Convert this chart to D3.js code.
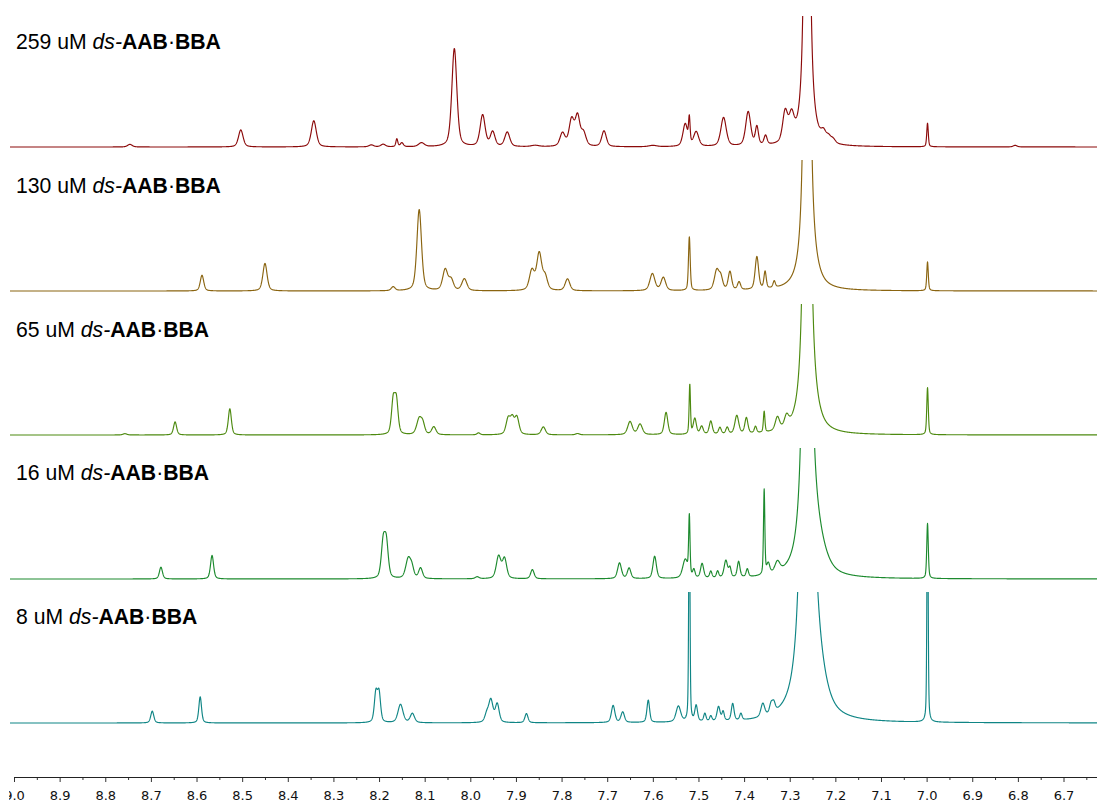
<!DOCTYPE html>
<html><head><meta charset="utf-8">
<script src="https://cdn.jsdelivr.net/npm/d3@7"></script>
<style>body{margin:0;background:#fff}svg{display:block}</style>
</head><body>
<svg id="chart" width="1097" height="804"></svg>
<script>
// ---- data (ppm, intensity a.u. with 100 = panel top, FWHM in ppm) ----
const concentrations = ["259", "130", "65", "16", "8"];
const tickLabels = [9.0, 8.9, 8.8, 8.7, 8.6, 8.5, 8.4, 8.3, 8.2, 8.1, 8.0, 7.9, 7.8, 7.7, 7.6, 7.5, 7.4, 7.3, 7.2, 7.1, 7.0, 6.9, 6.8, 6.7];
const minorTicks = [8.95, 8.85, 8.75, 8.65, 8.55, 8.45, 8.35, 8.25, 8.15, 8.05, 7.95, 7.85, 7.75, 7.65, 7.55, 7.45, 7.35, 7.25, 7.15, 7.05, 6.95, 6.85, 6.75, 6.65];

// CHCl3 solvent line (pure Lorentzian): centre, height per spectrum, FWHM per spectrum
const solventPpm = 7.262;
const solventHeight = [1050, 1200, 1330, 1780, 2600];
const solventWidth = [0.0062, 0.0066, 0.007, 0.007, 0.008];

const peaks259 = [
  [8.746, 2, 0.012], [8.503, 13, 0.012], [8.343, 20, 0.013], [8.217, 1.5, 0.012], [8.191, 2, 0.012],
  [8.161, 6, 0.005], [8.150, 3, 0.008], [8.107, 3, 0.015], [8.035, 75, 0.013], [7.973, 24, 0.013],
  [7.951, 11, 0.012], [7.919, 11, 0.013], [7.858, 1, 0.020], [7.798, 10, 0.013], [7.778, 20, 0.013],
  [7.765, 22, 0.012], [7.752, 10, 0.013], [7.707, 12, 0.012], [7.600, 1, 0.020], [7.529, 17, 0.012],
  [7.520, 19, 0.004], [7.505, 11, 0.013], [7.445, 22, 0.014], [7.391, 26, 0.013], [7.372, 14, 0.008],
  [7.353, 7, 0.008], [7.310, 23, 0.013], [7.296, 18, 0.013], [7.226, 6, 0.012],
  [7.215, 4, 0.012], [7.205, 3, 0.012], [6.998, 18, 0.004], [6.806, 1.2, 0.010]
];
const peaks130 = [
  [8.588, 12, 0.009], [8.450, 21, 0.011], [8.169, 3, 0.010], [8.112, 62, 0.012], [8.055, 16, 0.013],
  [8.042, 8, 0.012], [8.013, 9, 0.013], [7.865, 15, 0.013], [7.849, 28, 0.013], [7.836, 10, 0.012],
  [7.787, 9, 0.012], [7.601, 13, 0.013], [7.577, 10, 0.012], [7.520, 41, 0.0045], [7.460, 15, 0.012],
  [7.451, 9, 0.010], [7.431, 14, 0.009], [7.411, 6, 0.008], [7.372, 25, 0.009], [7.354, 13, 0.006],
  [7.334, 5, 0.006], [7.250, 5, 0.030], [6.998, 22, 0.004]
];
const peaks65 = [
  [8.757, 1, 0.010], [8.647, 10, 0.008], [8.527, 20, 0.008], [8.169, 25, 0.009], [8.162, 25, 0.009],
  [8.112, 12, 0.013], [8.104, 7, 0.010], [8.080, 6, 0.011], [7.982, 1.5, 0.008], [7.917, 12, 0.011],
  [7.908, 11, 0.010], [7.898, 13, 0.011], [7.840, 6, 0.011], [7.765, 1, 0.010], [7.650, 10, 0.012],
  [7.628, 8, 0.012], [7.571, 17, 0.009], [7.519, 38, 0.0035], [7.508, 12, 0.008], [7.493, 6, 0.008],
  [7.473, 10, 0.008], [7.453, 5, 0.007], [7.437, 5, 0.007], [7.416, 14, 0.010], [7.395, 12, 0.008],
  [7.375, 5, 0.006], [7.356, 16, 0.004], [7.327, 10, 0.011], [7.307, 8, 0.011],
  [7.250, 7, 0.030], [6.998, 36, 0.004]
];
const peaks16 = [
  [8.678, 9, 0.008], [8.566, 18, 0.008], [8.191, 26, 0.010], [8.184, 26, 0.010], [8.136, 15, 0.013],
  [8.128, 7, 0.010], [8.109, 8, 0.010], [7.985, 1.5, 0.010], [7.938, 17, 0.012], [7.925, 15, 0.011],
  [7.864, 7, 0.009], [7.673, 12, 0.010], [7.652, 8, 0.009], [7.596, 17, 0.009], [7.529, 14, 0.013],
  [7.520, 45, 0.0035], [7.510, 6, 0.006], [7.492, 11, 0.008], [7.473, 5, 0.006], [7.458, 5, 0.006],
  [7.440, 13, 0.009], [7.431, 7, 0.006], [7.412, 12, 0.007], [7.393, 6, 0.006], [7.356, 65, 0.0035],
  [7.347, 8, 0.008], [7.327, 8, 0.013], [7.245, 25, 0.045], [6.998, 42, 0.004]
];
const peaks8 = [
  [8.697, 9, 0.008], [8.592, 20, 0.007], [8.207, 22, 0.008], [8.200, 22, 0.008], [8.153, 14, 0.013],
  [8.127, 7, 0.011], [7.964, 6, 0.010], [7.955, 17, 0.011], [7.941, 14, 0.010], [7.877, 7, 0.008],
  [7.687, 13, 0.009], [7.666, 8, 0.009], [7.610, 17, 0.007], [7.544, 12, 0.012], [7.520, 200, 0.003],
  [7.505, 12, 0.007], [7.486, 6, 0.006], [7.473, 4, 0.006], [7.456, 11, 0.008], [7.446, 7, 0.006],
  [7.425, 13, 0.007], [7.407, 5, 0.006], [7.359, 10, 0.010], [7.341, 7, 0.008], [7.335, 7, 0.008],
  [7.245, 30, 0.045], [6.998, 200, 0.003]
];
const spectra = [peaks259, peaks130, peaks65, peaks16, peaks8];
const colors = ["#8b0a0a", "#8a6410", "#4d8a10", "#1c8a2e", "#0f8585"];

// ---- layout ----
const W = 1097, H = 804;
const svg = d3.select("#chart");
const x = d3.scaleLinear().domain([9.0307, 6.6266]).range([0, W]);
const panelTop0 = 147, panelStep = 144, panelH = 131;
const labelY0 = 49, labelStep = 143.75;
const xStart = 10;
const eta = 0.45; // Lorentzian fraction of the pseudo-Voigt line shape
const LN2x4 = 4 * Math.LN2;

function lineshape(peaks, i, ppm) {
  let s = 0;
  for (const [c, h, w] of peaks) {
    const d = (ppm - c) / w;
    s += h * (eta / (1 + 4 * d * d) + (1 - eta) * Math.exp(-LN2x4 * d * d));
  }
  const ds = (ppm - solventPpm) / (solventWidth[i] / 2);
  s += solventHeight[i] / (1 + ds * ds);
  return s;
}

const ppmGrid = d3.range(x.invert(xStart), x.domain()[1] - 0.0004, -0.0004);

spectra.forEach((peaks, i) => {
  const y0 = panelTop0 + panelStep * i;
  const y = d3.scaleLinear().domain([0, 100]).range([y0, y0 - panelH]);
  const cid = "clip" + i;
  svg.append("clipPath").attr("id", cid).append("rect")
    .attr("x", xStart).attr("y", y0 - panelH).attr("width", W - xStart).attr("height", panelH + 12);
  const pts = ppmGrid.map(p => [p, lineshape(peaks, i, p)]);
  const line = d3.line().x(d => x(d[0])).y(d => y(d[1]));
  svg.append("path").datum(pts)
    .attr("clip-path", `url(#${cid})`)
    .attr("fill", "none").attr("stroke", colors[i]).attr("stroke-width", 1.15)
    .attr("stroke-linejoin", "round")
    .attr("d", line);

  const t = svg.append("text")
    .attr("x", 16).attr("y", labelY0 + labelStep * i)
    .attr("font-family", "'Liberation Sans', Arial, sans-serif")
    .attr("font-size", 21.2).attr("fill", "#000")
    .style("white-space", "pre");
  t.append("tspan").text(concentrations[i] + " uM ");
  t.append("tspan").attr("font-style", "italic").text("ds-");
  t.append("tspan").attr("font-weight", "bold").text("AAB");
  t.append("tspan").text("\u00B7");
  t.append("tspan").attr("font-weight", "bold").text("BBA");
});

// ---- axis ----
const axisY = 777;
svg.append("clipPath").attr("id", "axclip").append("rect")
  .attr("x", 9).attr("y", 760).attr("width", W - 9).attr("height", 44);
const axG = svg.append("g").attr("clip-path", "url(#axclip)");
const major = axG.append("g").attr("transform", `translate(0,${axisY})`)
  .call(d3.axisBottom(x).tickValues(tickLabels).tickSize(5).tickSizeOuter(0).tickPadding(9).tickFormat(d3.format(".1f")));
major.select(".domain").remove();
major.selectAll("text").attr("font-family", "'DejaVu Sans', Verdana, sans-serif").attr("font-size", 13).attr("fill", "#111");
major.selectAll("line").attr("stroke", "#333");
const minor = axG.append("g").attr("transform", `translate(0,${axisY})`)
  .call(d3.axisBottom(x).tickValues(minorTicks).tickSize(3).tickSizeOuter(0).tickFormat(""));
minor.select(".domain").remove();
minor.selectAll("line").attr("stroke", "#333");
axG.append("line").attr("x1", x(9.0)).attr("x2", W).attr("y1", axisY + 0.5).attr("y2", axisY + 0.5)
  .attr("stroke", "#222").attr("stroke-width", 1);
</script>
</body></html>
